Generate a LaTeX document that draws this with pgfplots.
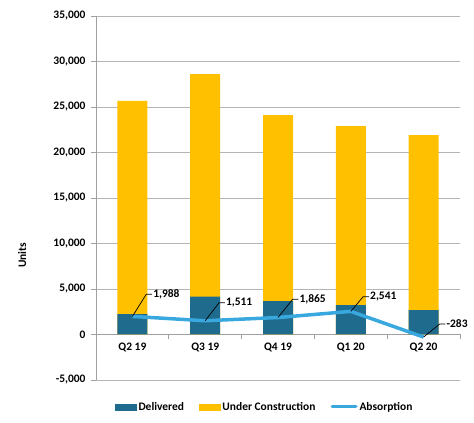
\documentclass[border=0pt]{standalone}
\usepackage{fontspec}
\setmainfont{Carlito}
\usepackage{pgfplots}
\usepackage{pgfplotstable}
\pgfplotsset{compat=1.18}
\definecolor{delv}{HTML}{1F6B8E}
\definecolor{uc}{HTML}{FFC000}
\definecolor{absb}{HTML}{38A8DF}
\definecolor{gridc}{HTML}{B4B4B4}
\definecolor{axc}{HTML}{A0A0A0}
\newcommand{\lblfont}{\fontsize{11.5}{13}\selectfont\bfseries}

\pgfplotstableread{
x del uc
0 2250 23410
1 4150 24450
2 3680 20440
3 3240 19660
4 2690 19230
}\bars
\pgfplotstableread{
x y u v
0 1988 0.19 2430
1 1511 0.19 1980
2 1865 0.20 2000
3 2541 0.17 1615
4 -283 0.22 1430
}\absorb
\pgfplotstableread{
x y
0 1988
0.19 4418
0.27 4418
nan nan
1 1511
1.19 3491
1.27 3491
nan nan
2 1865
2.20 3865
2.28 3865
nan nan
3 2541
3.17 4156
3.25 4156
nan nan
4 -283
4.22 1147
4.30 1147
}\leaders

\begin{document}
\begin{tikzpicture}
\begin{axis}[
  scale only axis, width=364bp, height=364bp,
  xmin=-0.5, xmax=4.5, ymin=-5000, ymax=35000,
  axis x line*=middle, axis y line*=left,
  axis line style={axc, line width=0.9bp},
  clip=false,
  font=\lblfont,
  scaled y ticks=false,
  /pgf/number format/assume math mode=true,
  /pgf/number format/1000 sep={,},
  ytick={-5000,0,5000,10000,15000,20000,25000,30000,35000},
  ymajorgrids, major grid style={gridc, line width=0.8bp},
  xtick={0,1,2,3,4},
  xticklabels={Q2 19,Q3 19,Q4 19,Q1 20,Q2 20},
  minor xtick={-0.5,0.5,1.5,2.5,3.5,4.5},
  tick align=outside,
  major tick length=5bp, minor tick length=5bp,
  xtick style={draw=none},
  minor x tick style={draw=axc, line width=0.8bp},
  ytick style={draw=axc, line width=0.8bp},
  yticklabel style={xshift=-2bp, font=\lblfont},
  xticklabel style={font=\lblfont},
  ylabel={Units},
  ylabel style={at={(axis description cs:-0.203,0.343)}, anchor=center, font=\lblfont},
  legend columns=3,
  legend style={at={(axis description cs:0.052,-0.074)}, anchor=west, draw=none, fill=none, inner sep=0pt,
    font=\lblfont,
    nodes={inner xsep=2bp, inner ysep=1bp},
    /tikz/every even column/.append style={column sep=13bp}},
]
% legend entries
\addlegendimage{legend image code/.code={\fill[delv] (0bp,-3bp) rectangle (21bp,3bp);}}
\addlegendentry{Delivered}
\addlegendimage{legend image code/.code={\fill[uc] (0bp,-3bp) rectangle (21bp,3bp);}}
\addlegendentry{Under Construction}
\addlegendimage{legend image code/.code={\draw[absb, line width=3bp, line cap=round] (0bp,0bp) -- (24bp,0bp);}}
\addlegendentry{Absorption}
% Under Construction stacked on Delivered (drawn as total height)
\addplot[ybar, bar width=30bp, bar shift=0pt, fill=uc, draw=none, forget plot]
  table[x=x, y expr=\thisrow{del}+\thisrow{uc}] {\bars};
% Delivered
\addplot[ybar, bar width=30bp, bar shift=0pt, fill=delv, draw=none, forget plot]
  table[x=x, y=del] {\bars};
% Absorption
\addplot[sharp plot, absb, line width=3.5bp, mark=none, forget plot]
  table[x=x, y=y] {\absorb};
% leader lines
\addplot[sharp plot, black, line width=0.7bp, mark=none, forget plot,
  unbounded coords=jump]
  table[x=x, y=y] {\leaders};
% data labels
\addplot[sharp plot, draw=none, mark=none, forget plot,
  point meta=explicit,
  nodes near coords={\pgfmathprintnumber{\pgfplotspointmeta}},
  nodes near coords style={anchor=west, inner sep=1bp, font=\lblfont, black}]
  table[x expr=\thisrow{x}+\thisrow{u}+0.08, y expr=\thisrow{y}+\thisrow{v}, meta=y] {\absorb};
\coordinate (BL) at (rel axis cs:0,0);
\coordinate (TR) at (rel axis cs:1,1);
\end{axis}
\pgfresetboundingbox
\path ([shift={(-96bp,-43bp)}]BL) rectangle ([shift={(14bp,16bp)}]TR);
\end{tikzpicture}
\end{document}
